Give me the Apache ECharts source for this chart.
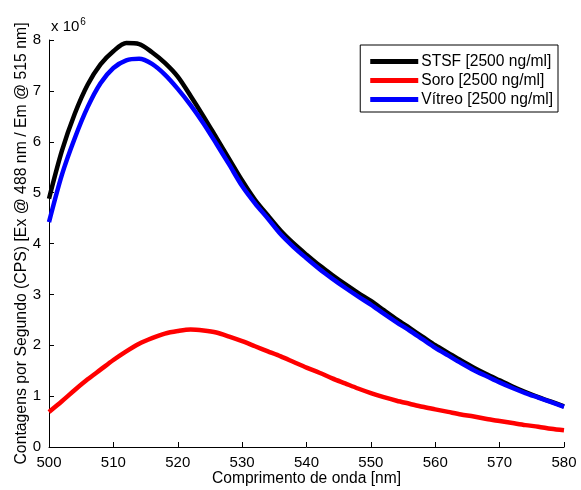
<!DOCTYPE html>
<html>
<head>
<meta charset="utf-8">
<script src="https://cdn.jsdelivr.net/npm/echarts@6/dist/echarts.min.js"></script>
<style>html,body{margin:0;padding:0;background:#fff}#c{width:581px;height:490px}</style>
</head>
<body>
<div id="c"></div>
<script>
const wavelengths = [500,502,504,506,508,510,512,514,516,518,520,522,524,526,528,530,532,534,536,538,540,542,544,546,548,550,552,554,556,558,560,562,564,566,568,570,572,574,576,578,580];
const stsf = [4.88,5.82,6.55,7.12,7.52,7.78,7.94,7.92,7.76,7.55,7.28,6.9,6.5,6.08,5.66,5.24,4.86,4.55,4.25,4.0,3.78,3.57,3.38,3.2,3.03,2.87,2.69,2.51,2.34,2.17,2.0,1.85,1.7,1.56,1.43,1.31,1.19,1.08,0.98,0.89,0.8];
const soro = [0.69,0.9,1.12,1.33,1.52,1.71,1.88,2.03,2.14,2.23,2.28,2.31,2.29,2.25,2.17,2.08,1.98,1.88,1.78,1.67,1.56,1.46,1.35,1.25,1.15,1.06,0.98,0.91,0.85,0.79,0.74,0.69,0.64,0.6,0.55,0.51,0.47,0.43,0.4,0.36,0.33];
const vitreo = [4.42,5.35,6.07,6.68,7.15,7.45,7.6,7.63,7.53,7.32,7.04,6.72,6.36,5.96,5.55,5.13,4.79,4.49,4.18,3.93,3.71,3.5,3.31,3.13,2.96,2.8,2.62,2.45,2.29,2.12,1.95,1.8,1.65,1.51,1.39,1.27,1.16,1.06,0.97,0.88,0.79];
const seriesNames = ['STSF [2500 ng/ml]','Soro [2500 ng/ml]','Vítreo [2500 ng/ml]'];
const seriesColors = ['#000000','#ff0000','#0000ff'];

const font = 'Liberation Sans, Arial, Helvetica, sans-serif';
const chart = echarts.init(document.getElementById('c'), null, {renderer:'canvas'});
const allData = [stsf, soro, vitreo];
chart.setOption({
  animation:false,
  backgroundColor:'#fff',
  textStyle:{fontFamily:font},
  grid:{left:49,right:17,top:40,bottom:43,containLabel:false,outerBoundsMode:'none'},
  legend:{
    orient:'vertical', right:23, top:45,
    backgroundColor:'#fff', borderColor:'#000', borderWidth:1, borderRadius:0,
    padding:[8,5,4,10], itemGap:2, itemWidth:48, itemHeight:5, icon:'rect',
    textStyle:{fontFamily:font,fontSize:15.6,lineHeight:17,color:'#000',padding:[0,0,0,-2]},
    data:seriesNames
  },
  xAxis:{
    type:'value', min:500, max:580, interval:10,
    name:'Comprimento de onda [nm]', nameLocation:'middle', nameGap:24, nameMoveOverlap:false,
    nameTextStyle:{fontFamily:font,fontSize:15.6,color:'#000'},
    axisLine:{lineStyle:{color:'#000',width:1}},
    axisTick:{inside:true,length:5,lineStyle:{color:'#000'}},
    axisLabel:{fontFamily:font,fontSize:15,color:'#000',margin:8},
    splitLine:{show:false}
  },
  yAxis:{
    type:'value', min:0, max:8, interval:1,
    name:'Contagens por Segundo (CPS) [Ex @ 488 nm / Em @ 515 nm]', nameLocation:'middle', nameGap:19, nameMoveOverlap:false,
    nameTextStyle:{fontFamily:font,fontSize:15.8,color:'#000'},
    axisLine:{show:true,lineStyle:{color:'#000',width:1}},
    axisTick:{show:true,inside:true,length:5,lineStyle:{color:'#000'}},
    axisLabel:{fontFamily:font,fontSize:15,color:'#000',margin:8},
    splitLine:{show:false}
  },
  graphic:[{
    type:'text', left:51, top:17,
    style:{text:'{a|x 10}{b|6}', rich:{a:{fontFamily:font,fontSize:15,fill:'#000'},b:{fontFamily:font,fontSize:10,fill:'#000',verticalAlign:'top',padding:[0,0,9,1]}}}
  }],
  series: seriesNames.map((n,i)=>({
    name:n, type:'line', showSymbol:false, symbol:'none', smooth:0.3,
    lineStyle:{color:seriesColors[i],width:4.5},
    itemStyle:{color:seriesColors[i]},
    data: wavelengths.map((w,j)=>[w, allData[i][j]])
  }))
});
</script>
</body>
</html>
